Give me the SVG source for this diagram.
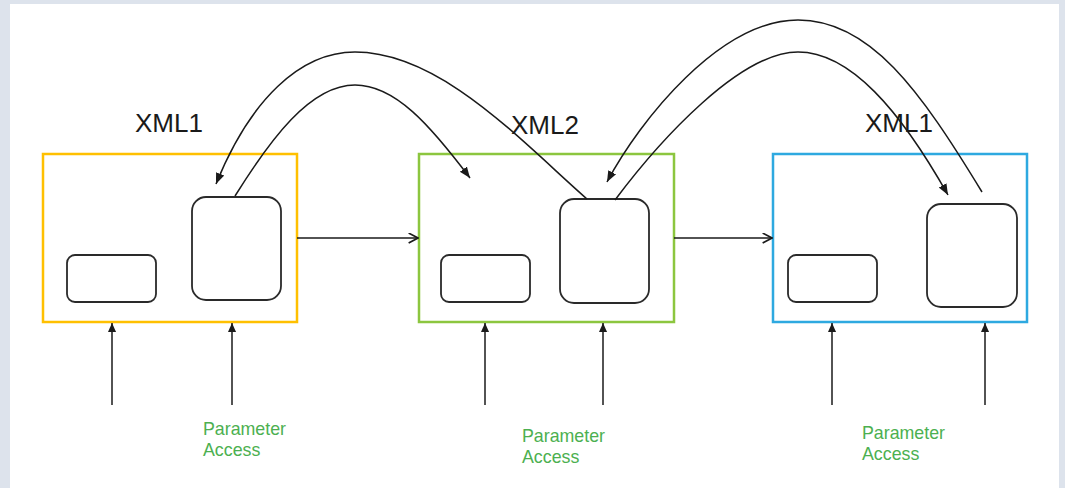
<svg xmlns="http://www.w3.org/2000/svg" width="1065" height="488" viewBox="0 0 1065 488">
<style>
.frame{fill:none;stroke-width:2.5}
.inner{fill:#fff;stroke:#2a2a2a;stroke-width:1.8}
.title{font-family:"Liberation Sans",Arial,sans-serif;font-size:26px;fill:#1a1a1a}
.lbl{font-family:"Liberation Sans",Arial,sans-serif;font-size:17.8px;fill:#4cb050}
.conn{fill:none;stroke:#1a1a1a;stroke-width:1.5}
</style>
<defs>
<marker id="fill" viewBox="0 0 10 10" refX="10" refY="5" markerWidth="9" markerHeight="9" markerUnits="userSpaceOnUse" orient="auto"><path d="M0,0.5 L10,5 L0,9.5 Z" fill="#1a1a1a"/></marker>
<marker id="big" viewBox="0 0 10 10" refX="10" refY="5" markerWidth="11" markerHeight="11" markerUnits="userSpaceOnUse" orient="auto"><path d="M0,1 L10,5 L0,9 Z" fill="#1a1a1a"/></marker>
<marker id="open" viewBox="0 0 10 10" refX="9.5" refY="5" markerWidth="11" markerHeight="11" markerUnits="userSpaceOnUse" orient="auto"><path d="M1,0.5 L9.5,5 L1,9.5" fill="none" stroke="#1a1a1a" stroke-width="1.5"/></marker>
</defs>
<rect x="0" y="0" width="1065" height="488" fill="#dde3ec"/>
<rect x="10" y="4" width="1049" height="484" fill="#fff"/>

<g id="node1">
<rect class="frame" x="43" y="154" width="254" height="168" stroke="#ffc000"/>
<rect class="inner" x="67" y="255" width="89" height="47" rx="8"/>
<rect class="inner" x="192" y="197" width="89" height="103" rx="14"/>
<text class="title" x="135" y="132">XML1</text>
</g>
<g id="node2">
<rect class="frame" x="419" y="154" width="255" height="168" stroke="#8cc63f"/>
<rect class="inner" x="441" y="255" width="89" height="47" rx="8"/>
<rect class="inner" x="560" y="199" width="89" height="104" rx="14"/>
<text class="title" x="511" y="134">XML2</text>
</g>
<g id="node3">
<rect class="frame" x="773" y="154" width="254" height="168" stroke="#2ea9e0"/>
<rect class="inner" x="788" y="255" width="89" height="47" rx="8"/>
<rect class="inner" x="927" y="204" width="90" height="103" rx="14"/>
<text class="title" x="865" y="132">XML1</text>
</g>

<g id="labels">
<text class="lbl" x="203" y="435">Parameter</text>
<text class="lbl" x="203" y="456">Access</text>
<text class="lbl" x="522" y="442">Parameter</text>
<text class="lbl" x="522" y="463">Access</text>
<text class="lbl" x="862" y="439">Parameter</text>
<text class="lbl" x="862" y="460">Access</text>
</g>

<g id="connectors">
<path class="conn" d="M297,238 L418,238" marker-end="url(#open)"/>
<path class="conn" d="M674,238 L772,238" marker-end="url(#open)"/>
<path class="conn" d="M112,405 L112,323" marker-end="url(#fill)"/>
<path class="conn" d="M232,405 L232,323" marker-end="url(#fill)"/>
<path class="conn" d="M485,405 L485,323" marker-end="url(#fill)"/>
<path class="conn" d="M603,405 L603,323" marker-end="url(#fill)"/>
<path class="conn" d="M832,405 L832,323" marker-end="url(#fill)"/>
<path class="conn" d="M985,405 L985,323" marker-end="url(#fill)"/>
<path class="conn" d="M587,199 C520,140 440,52 355,52 C300,52 250,100 216,184" marker-end="url(#big)"/>
<path class="conn" d="M235,196 C270,140 310,85 355,85 C395,85 430,125 470,178" marker-end="url(#big)"/>
<path class="conn" d="M982,192 C920,90 870,20 798,20 C720,20 640,120 607,182" marker-end="url(#big)"/>
<path class="conn" d="M615,200 C660,140 740,52 798,52 C850,52 900,110 948,195" marker-end="url(#big)"/>
</g>
</svg>
